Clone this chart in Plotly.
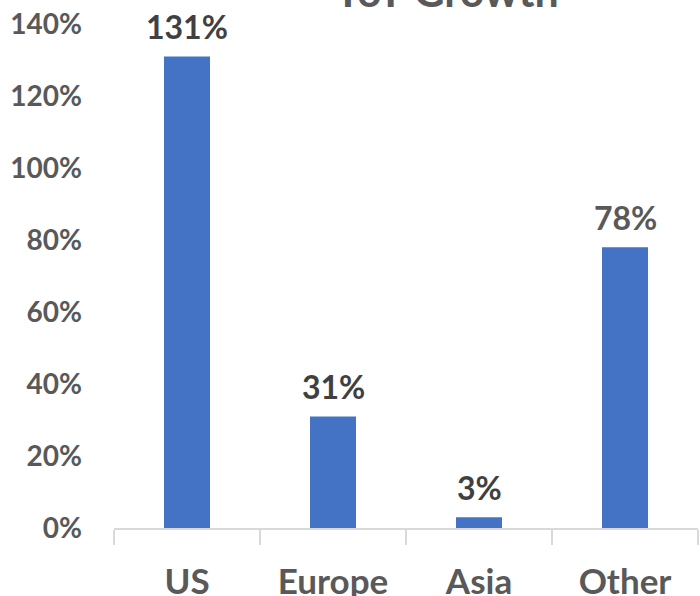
import plotly.graph_objects as go

categories = ["US", "Europe", "Asia", "Other"]
growth = [131, 31, 3, 78]
label_colors = ["#404040", "#404040", "#404040", "#595959"]
y_ticks = [0, 20, 40, 60, 80, 100, 120, 140]
title_text = "YoY Growth"

FONT = "Lato, 'Open Sans', sans-serif"

fig = go.Figure()
fig.add_trace(go.Bar(
    x=categories,
    y=growth,
    marker=dict(color="#4472C4", line=dict(width=0)),
    hoverinfo="x+y",
))

annotations = [dict(
    text=f"<b>{title_text}</b>", xref="paper", yref="paper",
    x=0.569, y=1.012, xanchor="center", yanchor="bottom",
    showarrow=False, font=dict(family=FONT, size=43, color="#595959"),
)]
for cat, v, col in zip(categories, growth, label_colors):
    annotations.append(dict(
        text=f"<b>{v}%</b>", x=cat, y=v, xref="x", yref="y",
        xanchor="center", yanchor="bottom", yshift=8, showarrow=False,
        font=dict(family=FONT, size=32, color=col),
    ))

fig.update_layout(
    width=700, height=596,
    margin=dict(l=114, r=2, t=24, b=68),
    paper_bgcolor="white", plot_bgcolor="white",
    bargap=0.685,
    showlegend=False,
    font=dict(family=FONT, color="#595959"),
    annotations=annotations,
)
fig.update_xaxes(
    automargin=False,
    showline=True, linecolor="#d9d9d9", linewidth=1.5,
    ticks="outside", tickson="boundaries", ticklen=15, tickcolor="#d9d9d9", tickwidth=1.5,
    tickfont=dict(family=FONT, size=35, color="#595959", weight="bold"),
    ticklabelstandoff=22,
    showgrid=False,
)
fig.update_yaxes(
    automargin=False,
    range=[0, 140], tickvals=y_ticks, ticktext=[f"{v}%" for v in y_ticks],
    showgrid=False, zeroline=False, showline=False,
    tickfont=dict(family=FONT, size=28, color="#595959", weight="bold"),
    ticklabelstandoff=31,
)

fig.write_html(
    "out.html",
    config={"displayModeBar": False},
    post_script="document.body.style.margin='0';document.body.style.overflow='hidden';",
)
